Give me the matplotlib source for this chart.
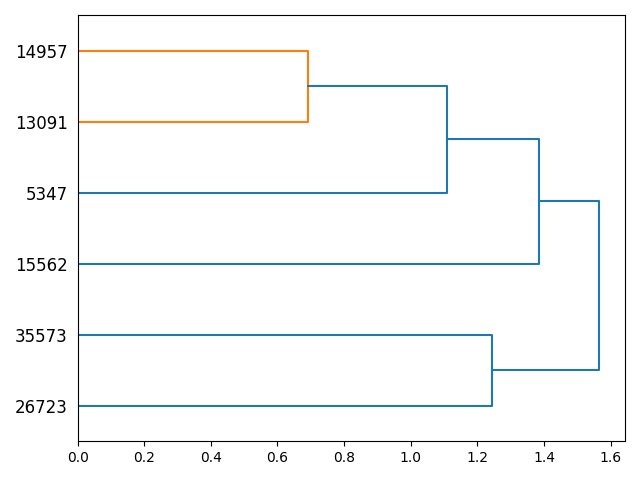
import matplotlib
matplotlib.use("Agg")
import matplotlib.pyplot as plt

# leaves from bottom to top
leaf_labels = ["26723", "35573", "15562", "5347", "13091", "14957"]
# merges: (left child, right child, height); children are leaf indices or "m<k>"
merge_left = ["0", "4", "m1", "m2", "m0"]
merge_right = ["1", "5", "3", "2", "m3"]
merge_height = [1.243, 0.692, 1.109, 1.384, 1.565]
merge_color = ["C0", "C1", "C0", "C0", "C0"]

fig, ax = plt.subplots(figsize=(6.4, 4.8), dpi=100)

pos = {}
hgt = {}
for i in range(len(leaf_labels)):
    pos[str(i)] = 5 + 10 * i
    hgt[str(i)] = 0.0

for k, (a, b, h, c) in enumerate(zip(merge_left, merge_right, merge_height, merge_color)):
    ya, yb = pos[a], pos[b]
    xa, xb = hgt[a], hgt[b]
    ax.plot([xa, h, h, xb], [ya, ya, yb, yb], color=c, lw=1.5)
    pos["m%d" % k] = (ya + yb) / 2
    hgt["m%d" % k] = h

mh = max(merge_height)
ax.set_xlim(0, mh * 1.05)
ax.set_ylim(0, 10 * len(leaf_labels))
ax.set_yticks([5 + 10 * i for i in range(len(leaf_labels))])
ax.set_yticklabels(leaf_labels, size=12)
for line in ax.get_yticklines():
    line.set_visible(False)

fig.tight_layout()
fig.savefig("out.png")
